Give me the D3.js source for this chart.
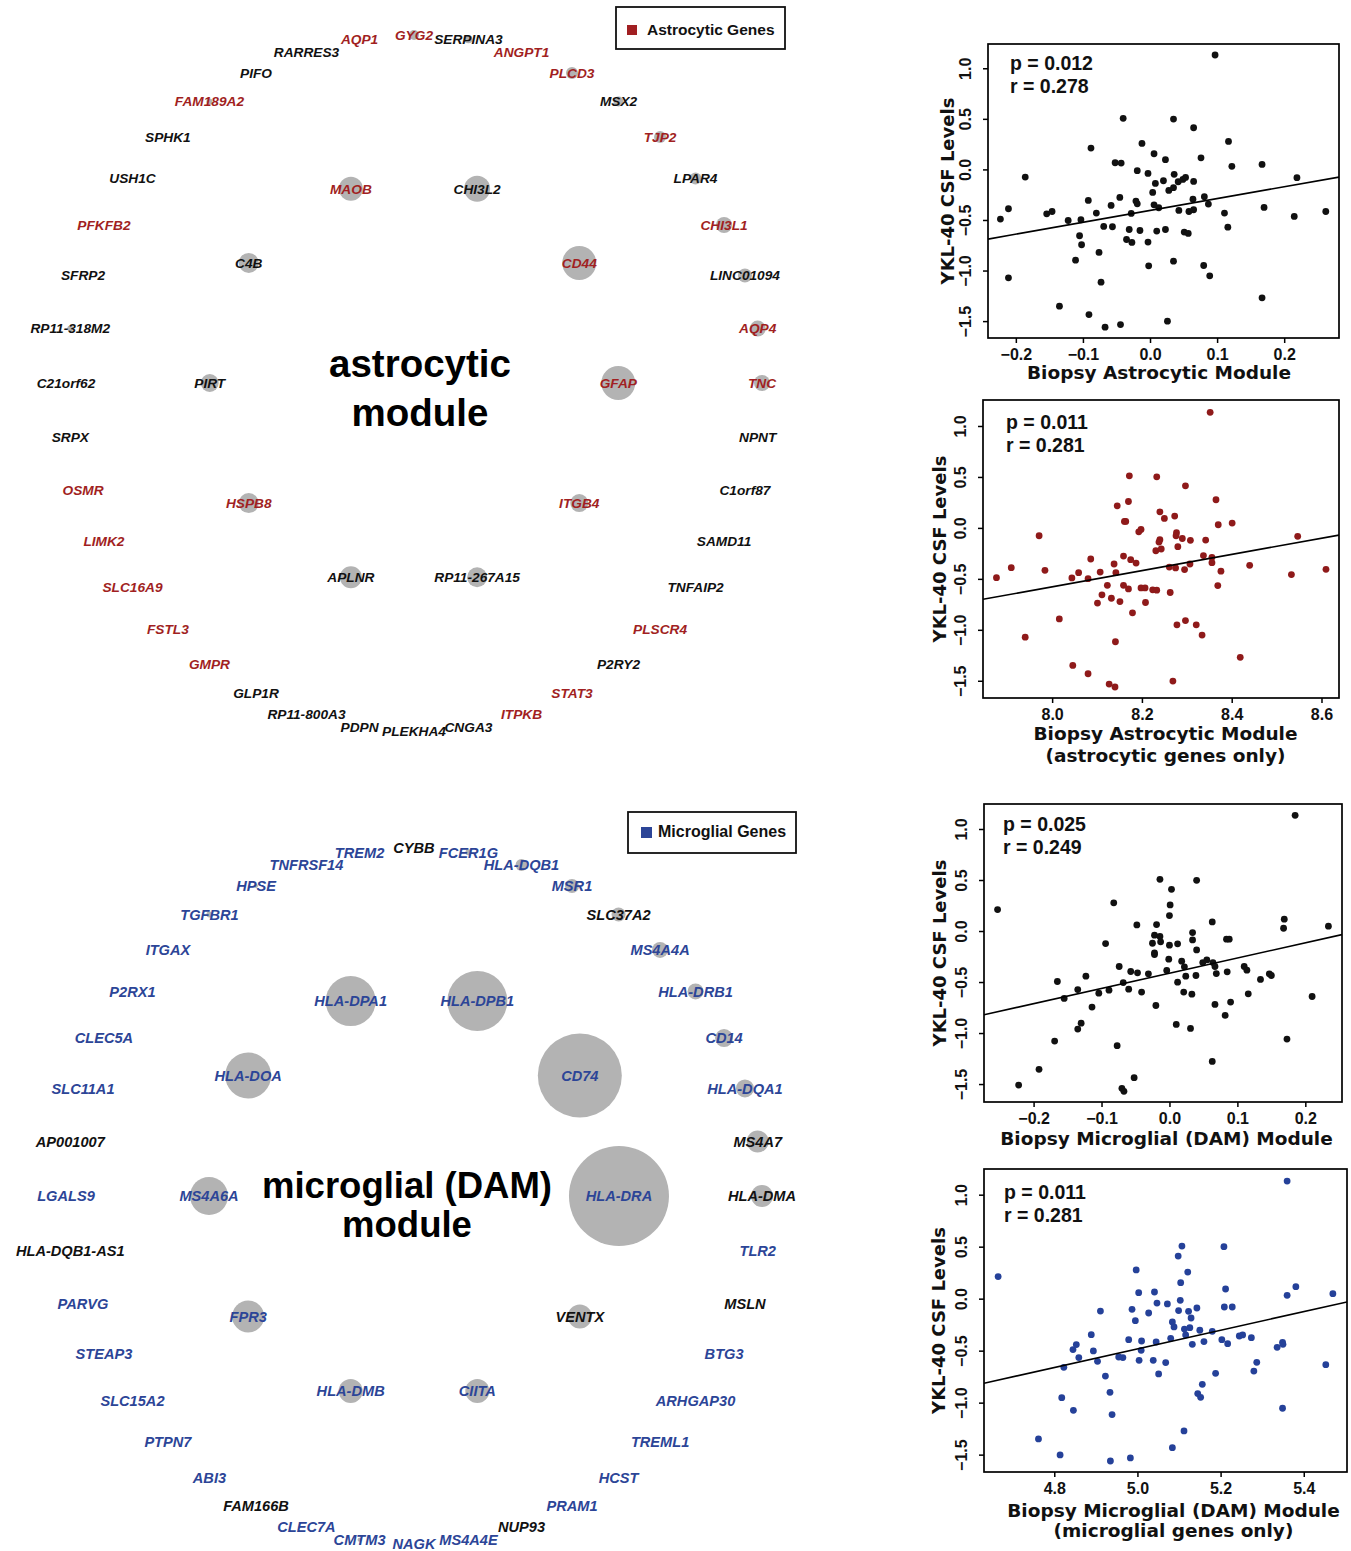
<!DOCTYPE html>
<html><head><meta charset="utf-8">
<script src="https://cdn.jsdelivr.net/npm/d3@7"></script>
<style>body{margin:0;background:#fff}svg{display:block}</style>
</head><body>
<svg id="c" width="1351" height="1551"></svg>
<script>
// ================= DATA =================
// Astrocytic network: outer ring (clockwise from top), hub ring (clockwise from right)
const astroRingGenes = ["GYG2","SERPINA3","ANGPT1","PLCD3","MSX2","TJP2","LPAR4","CHI3L1","LINC01094","AQP4","TNC","NPNT","C1orf87","SAMD11","TNFAIP2","PLSCR4","P2RY2","STAT3","ITPKB","CNGA3","PLEKHA4","PDPN","RP11-800A3","GLP1R","GMPR","FSTL3","SLC16A9","LIMK2","OSMR","SRPX","C21orf62","RP11-318M2","SFRP2","PFKFB2","USH1C","SPHK1","FAM189A2","PIFO","RARRES3","AQP1"];
const astroRingSize = [5,4,0,6,5,6,6,8,7,8,8,0,0,0,0,0,0,0,0,0,0,0,0,0,0,0,0,0,0,0,0,3,0,0,0,0,3,0,0,0];
const astroRingIsAstro = [1,0,1,1,0,1,0,1,0,1,1,0,0,0,0,1,0,1,1,0,0,0,0,0,1,1,1,1,1,0,0,0,0,1,0,0,1,0,0,1];
const astroHubGenes = ["GFAP","ITGB4","RP11-267A15","APLNR","HSPB8","PIRT","C4B","MAOB","CHI3L2","CD44"];
const astroHubSize = [17,9,10,11,10,9,10,12,13,17];
const astroHubIsAstro = [1,1,0,0,1,0,0,1,0,1];

// Microglial (DAM) network
const microRingGenes = ["CYBB","FCER1G","HLA-DQB1","MSR1","SLC37A2","MS4A4A","HLA-DRB1","CD14","HLA-DQA1","MS4A7","HLA-DMA","TLR2","MSLN","BTG3","ARHGAP30","TREML1","HCST","PRAM1","NUP93","MS4A4E","NAGK","CMTM3","CLEC7A","FAM166B","ABI3","PTPN7","SLC15A2","STEAP3","PARVG","HLA-DQB1-AS1","LGALS9","AP001007","SLC11A1","CLEC5A","P2RX1","ITGAX","TGFBR1","HPSE","TNFRSF14","TREM2"];
const microRingSize = [0,3,6,7,7,8,8,9,9,11,11,0,0,0,0,0,0,0,0,0,0,2,0,0,0,0,0,0,0,0,0,0,0,0,0,0,3,2,0,0];
const microRingIsMicro = [0,1,1,1,0,1,1,1,1,0,0,1,0,1,1,1,1,1,0,1,1,1,1,0,1,1,1,1,1,0,1,0,1,1,1,1,1,1,1,1];
const microHubGenes = ["HLA-DRA","VENTX","CIITA","HLA-DMB","FPR3","MS4A6A","HLA-DOA","HLA-DPA1","HLA-DPB1","CD74"];
const microHubSize = [50,12,12,12,16,19,23,25,30,42];
const microHubIsMicro = [1,0,1,1,1,1,1,1,1,1];

// Scatter panels
const p1X = [0.097,-0.040,0.035,0.065,-0.088,-0.012,0.117,0.006,0.076,-0.052,-0.043,0.023,0.122,0.167,-0.186,-0.019,-0.003,0.036,0.219,0.008,0.020,0.042,0.049,0.053,0.065,0.028,0.035,0.004,-0.045,-0.092,-0.058,-0.021,-0.019,0.006,0.013,0.064,0.081,0.087,0.043,0.058,0.065,0.170,-0.223,-0.211,-0.154,-0.146,-0.122,-0.103,-0.080,-0.028,0.111,0.215,0.262,-0.069,-0.056,-0.031,-0.015,0.010,0.023,0.051,0.057,0.116,-0.105,-0.102,-0.035,-0.027,-0.003,-0.076,-0.111,0.035,-0.002,0.080,0.089,-0.211,-0.073,0.167,-0.135,-0.091,-0.067,-0.044,0.026];
const p1Y = [1.131,0.505,0.498,0.412,0.211,0.257,0.277,0.155,0.115,0.066,0.063,0.096,0.030,0.049,-0.076,-0.013,-0.040,-0.049,-0.082,-0.139,-0.112,-0.122,-0.099,-0.079,-0.119,-0.208,-0.181,-0.228,-0.277,-0.307,-0.356,-0.313,-0.340,-0.350,-0.379,-0.294,-0.270,-0.343,-0.406,-0.416,-0.399,-0.376,-0.491,-0.389,-0.439,-0.416,-0.505,-0.498,-0.432,-0.435,-0.432,-0.465,-0.416,-0.564,-0.567,-0.594,-0.604,-0.610,-0.594,-0.620,-0.633,-0.571,-0.656,-0.745,-0.693,-0.722,-0.719,-0.821,-0.897,-0.907,-0.953,-0.950,-1.052,-1.072,-1.115,-1.270,-1.352,-1.435,-1.560,-1.534,-1.501];
const p2X = [8.352,8.172,8.233,8.297,8.170,8.145,8.365,8.240,8.250,8.273,8.161,8.164,8.370,8.401,7.971,8.198,8.193,8.277,8.276,8.290,8.308,8.342,8.547,8.240,8.238,8.231,8.243,8.280,8.086,8.159,8.175,8.187,8.138,8.142,8.107,8.059,8.044,8.080,7.876,7.909,7.984,8.261,8.275,8.295,8.307,8.337,8.356,8.356,8.376,8.440,8.533,8.610,8.123,8.159,8.170,8.198,8.207,8.224,8.233,8.263,8.369,8.111,8.132,8.151,8.101,8.208,8.179,8.016,8.297,8.278,8.321,8.334,7.940,8.141,8.419,8.046,8.080,8.127,8.140,8.269];
const p2Y = [1.134,0.511,0.501,0.413,0.259,0.217,0.276,0.158,0.093,0.116,0.064,0.064,0.031,0.047,-0.077,-0.015,-0.038,-0.047,-0.077,-0.104,-0.122,-0.119,-0.083,-0.116,-0.139,-0.224,-0.207,-0.184,-0.305,-0.276,-0.312,-0.345,-0.354,-0.439,-0.433,-0.439,-0.491,-0.498,-0.488,-0.390,-0.416,-0.384,-0.393,-0.409,-0.354,-0.272,-0.289,-0.341,-0.425,-0.367,-0.458,-0.406,-0.563,-0.563,-0.599,-0.589,-0.589,-0.608,-0.611,-0.634,-0.566,-0.657,-0.690,-0.723,-0.738,-0.732,-0.833,-0.893,-0.909,-0.951,-0.951,-1.052,-1.072,-1.117,-1.270,-1.349,-1.431,-1.532,-1.561,-1.503];
const p3X = [0.185,-0.253,-0.082,-0.014,0.040,0.003,0.001,0.000,-0.048,-0.019,0.063,0.169,0.168,0.234,-0.094,-0.022,-0.014,-0.025,-0.013,0.000,0.012,0.034,0.034,0.084,0.088,-0.022,-0.022,0.040,-0.001,0.018,-0.074,0.049,0.055,0.064,0.067,0.022,-0.004,-0.057,-0.047,-0.031,-0.123,-0.165,-0.068,0.012,0.024,0.039,0.069,0.085,0.110,0.114,0.134,0.147,0.150,-0.135,-0.104,-0.089,-0.060,-0.041,0.021,0.033,0.116,0.210,-0.155,-0.114,-0.020,0.067,0.090,0.082,-0.130,-0.135,0.010,0.031,-0.169,-0.077,0.173,0.063,-0.192,-0.222,-0.052,-0.070,-0.067];
const p3Y = [1.134,0.210,0.276,0.507,0.497,0.409,0.256,0.151,0.060,0.063,0.089,0.116,0.027,0.047,-0.123,-0.041,-0.054,-0.120,-0.106,-0.139,-0.126,-0.015,-0.087,-0.080,-0.080,-0.214,-0.230,-0.185,-0.276,-0.296,-0.348,-0.309,-0.283,-0.309,-0.348,-0.351,-0.387,-0.397,-0.410,-0.420,-0.443,-0.495,-0.505,-0.501,-0.443,-0.436,-0.417,-0.400,-0.348,-0.384,-0.475,-0.420,-0.436,-0.574,-0.609,-0.580,-0.570,-0.599,-0.599,-0.619,-0.616,-0.642,-0.661,-0.746,-0.730,-0.720,-0.697,-0.827,-0.903,-0.961,-0.916,-0.955,-1.079,-1.124,-1.059,-1.278,-1.356,-1.510,-1.438,-1.542,-1.571];
const p4X = [5.360,4.665,5.107,5.208,5.098,4.997,5.121,5.104,5.003,5.041,5.212,5.381,5.360,5.470,4.911,5.047,5.072,5.103,4.987,5.027,5.099,5.123,5.143,5.209,5.228,4.995,5.084,5.088,5.129,5.113,5.126,5.150,5.116,5.180,4.889,4.979,5.010,5.045,5.080,5.132,5.160,5.203,5.217,5.245,5.253,5.274,5.336,5.349,5.350,4.845,4.853,4.859,4.894,4.904,4.955,4.965,5.009,5.004,5.038,5.068,5.287,5.453,4.823,4.923,5.051,5.188,5.280,5.156,4.934,5.145,5.152,4.818,4.846,4.939,5.349,5.112,4.762,5.084,4.814,4.935,4.983];
const p4Y = [1.131,0.212,0.506,0.500,0.410,0.276,0.256,0.154,0.058,0.064,0.093,0.115,0.032,0.048,-0.119,-0.042,-0.051,-0.016,-0.103,-0.138,-0.115,-0.122,-0.090,-0.080,-0.080,-0.212,-0.224,-0.272,-0.186,-0.292,-0.279,-0.304,-0.349,-0.314,-0.346,-0.394,-0.407,-0.417,-0.381,-0.439,-0.413,-0.394,-0.433,-0.359,-0.349,-0.375,-0.468,-0.420,-0.439,-0.490,-0.442,-0.567,-0.503,-0.603,-0.561,-0.567,-0.497,-0.593,-0.593,-0.615,-0.612,-0.635,-0.660,-0.744,-0.724,-0.718,-0.696,-0.824,-0.901,-0.913,-0.949,-0.952,-1.074,-1.115,-1.054,-1.272,-1.349,-1.433,-1.503,-1.561,-1.532];

const fitSlope = [1.172, 0.794, 1.491, 0.896];
const fitIntercept = [-0.406, -6.930, -0.414, -4.963];
const pLabels = ["p = 0.012","p = 0.011","p = 0.025","p = 0.011"];
const rLabels = ["r = 0.278","r = 0.281","r = 0.249","r = 0.281"];
const yTicks = [-1.5,-1.0,-0.5,0.0,0.5,1.0];
const xTicksModule = [-0.2,-0.1,0.0,0.1,0.2];
const xTicksAstroGenes = [8.0,8.2,8.4,8.6];
const xTicksMicroGenes = [4.8,5.0,5.2,5.4];
const xTitles = [["Biopsy Astrocytic Module"],["Biopsy Astrocytic Module","(astrocytic genes only)"],["Biopsy Microglial (DAM) Module"],["Biopsy Microglial (DAM) Module","(microglial genes only)"]];
const yTitle = "YKL-40 CSF Levels";

// ================= STYLE / LAYOUT =================
const RED = "#a11f22", BLUE = "#2c4597", TXT = "#111";
const LABEL_FONT = "'Liberation Sans', Arial, Helvetica, sans-serif";
const WIDE_FONT = "'DejaVu Sans', Verdana, sans-serif";
const svg = d3.select("#c");

function drawNetwork(cfg, ringGenes, ringSize, ringFlag, hubGenes, hubSize, hubFlag, flagColor) {
  const g = svg.append("g");
  const ang = d3.scaleLinear().domain([0, ringGenes.length]).range([-Math.PI/2, 3*Math.PI/2]);
  const hubAng = d3.scaleLinear().domain([0, hubGenes.length]).range([0, 2*Math.PI]);
  const sx = d3.scaleLinear().domain([-1,1]).range([cfg.cx-cfg.R, cfg.cx+cfg.R]);
  const sy = d3.scaleLinear().domain([-1,1]).range([cfg.cy-cfg.R, cfg.cy+cfg.R]);
  const rs = d3.scaleLinear().domain([0,50]).range([0,50]);
  const nodes = ringGenes.map((n,i)=>({name:n, size:ringSize[i], flag:ringFlag[i], ux:Math.cos(ang(i)), uy:Math.sin(ang(i))}))
    .concat(hubGenes.map((n,i)=>({name:n, size:hubSize[i], flag:hubFlag[i], ux:cfg.hub*Math.cos(hubAng(i)), uy:cfg.hub*Math.sin(hubAng(i))})));
  g.selectAll("circle").data(nodes.filter(d=>d.size>0)).join("circle")
    .attr("cx", d=>sx(d.ux)).attr("cy", d=>sy(d.uy)).attr("r", d=>rs(d.size))
    .attr("fill", "#b3b3b3");
  g.selectAll("text.lab").data(nodes).join("text").attr("class","lab")
    .attr("x", d=>sx(d.ux)).attr("y", d=>sy(d.uy)).attr("dy","0.36em")
    .attr("text-anchor","middle")
    .style("font-family", LABEL_FONT).style("font-weight","bold").style("font-style","italic")
    .style("font-size", cfg.fs+"px")
    .attr("fill", d=>d.flag ? flagColor : TXT)
    .text(d=>d.name);
  cfg.title.forEach((t,i)=>{
    g.append("text").attr("x", cfg.tx).attr("y", cfg.ty[i]).attr("text-anchor","middle")
      .style("font-family", LABEL_FONT).style("font-weight","bold").style("font-size", cfg.tfs+"px")
      .attr("fill","#000").text(t);
  });
  const L = cfg.legend;
  g.append("rect").attr("x",L.x).attr("y",L.y).attr("width",L.w).attr("height",L.h)
    .attr("fill","#fff").attr("stroke","#111").attr("stroke-width",1.8);
  g.append("rect").attr("x",L.x+L.sq[0]).attr("y",L.y+L.sq[1]).attr("width",L.sq[2]).attr("height",L.sq[2])
    .attr("fill",flagColor);
  g.append("text").attr("x",L.x+L.tx).attr("y",L.y+L.ty)
    .style("font-family", LABEL_FONT).style("font-weight","bold").style("font-size", L.fs+"px")
    .attr("fill","#111").text(L.text);
}

drawNetwork({cx:414, cy:383, R:348, hub:0.587, fs:13.7, title:["astrocytic","module"], tx:420, ty:[377,426], tfs:38.5,
  legend:{x:616,y:7,w:169,h:42,sq:[11,18,10],tx:31,ty:28,fs:15.5,text:"Astrocytic Genes"}},
  astroRingGenes, astroRingSize, astroRingIsAstro, astroHubGenes, astroHubSize, astroHubIsAstro, RED);
drawNetwork({cx:414, cy:1196, R:348, hub:0.589, fs:14.6, title:["microglial (DAM)","module"], tx:407, ty:[1198,1237], tfs:36.5,
  legend:{x:628,y:812,w:168,h:41,sq:[13,15,11],tx:30,ty:25,fs:16,text:"Microglial Genes"}},
  microRingGenes, microRingSize, microRingIsMicro, microHubGenes, microHubSize, microHubIsMicro, BLUE);

const panels = [
  {x0:988, x1:1339, y0:44,  y1:338,  xd:[-0.2415,0.2817], yd:[-1.667,1.24],  X:p1X, Y:p1Y, xt:xTicksModule,    col:"#111",    textX:22, pY:26,   ytOff:34.5, xtY:[41],    xtDx:-4.5, tkY:10.5},
  {x0:983, x1:1339, y0:400, y1:698,  xd:[7.846,8.639],    yd:[-1.669,1.255], X:p2X, Y:p2Y, xt:xTicksAstroGenes, col:"#8f1a1a", textX:23, pY:29,   ytOff:37,   xtY:[42,64], xtDx:4.5, tkY:11},
  {x0:984, x1:1342, y0:804, y1:1102, xd:[-0.273,0.254],   yd:[-1.676,1.245], X:p3X, Y:p3Y, xt:xTicksModule,    col:"#111",    textX:19, pY:26.5, ytOff:38,   xtY:[43],    xtDx:3.5, tkY:11},
  {x0:984, x1:1347, y0:1169,y1:1472, xd:[4.631,5.504],    yd:[-1.667,1.247], X:p4X, Y:p4Y, xt:xTicksMicroGenes, col:"#254199", textX:20, pY:30,   ytOff:39.5, xtY:[45,65], xtDx:8, tkY:11}
];

panels.forEach((P, k) => {
  const g = svg.append("g");
  const x = d3.scaleLinear().domain(P.xd).range([P.x0, P.x1]);
  const y = d3.scaleLinear().domain(P.yd).range([P.y1, P.y0]);
  const clipId = "clip"+k;
  g.append("clipPath").attr("id",clipId).append("rect")
    .attr("x",P.x0).attr("y",P.y0).attr("width",P.x1-P.x0).attr("height",P.y1-P.y0);
  g.append("g").selectAll("circle").data(P.X.map((v,i)=>[v,P.Y[i]])).join("circle")
    .attr("cx", d=>x(d[0])).attr("cy", d=>y(d[1])).attr("r", 3.4).attr("fill", P.col);
  const lx = P.xd;
  g.append("line").attr("clip-path",`url(#${clipId})`)
    .attr("x1", x(lx[0])).attr("y1", y(fitIntercept[k]+fitSlope[k]*lx[0]))
    .attr("x2", x(lx[1])).attr("y2", y(fitIntercept[k]+fitSlope[k]*lx[1]))
    .attr("stroke","#000").attr("stroke-width",1.6);
  g.append("rect").attr("x",P.x0).attr("y",P.y0).attr("width",P.x1-P.x0).attr("height",P.y1-P.y0)
    .attr("fill","none").attr("stroke","#000").attr("stroke-width",1.7);
  const ax = g.append("g").attr("transform",`translate(0,${P.y1})`)
    .call(d3.axisBottom(x).tickValues(P.xt).tickFormat(d3.format(".1f")).tickSize(5).tickSizeOuter(0));
  ax.select(".domain").remove();
  ax.selectAll("line").attr("stroke","#000").attr("stroke-width",1.5);
  ax.selectAll("text").attr("y",P.tkY).attr("dy","0.71em")
    .style("font-family",LABEL_FONT).style("font-weight","bold").style("font-size","16px").attr("fill","#111");
  const ay = g.append("g").attr("transform",`translate(${P.x0},0)`)
    .call(d3.axisLeft(y).tickValues(yTicks).tickFormat(d3.format(".1f")).tickSize(5).tickSizeOuter(0));
  ay.select(".domain").remove();
  ay.selectAll("line").attr("stroke","#000").attr("stroke-width",1.5);
  ay.selectAll("text").attr("x",0).attr("dy",0).attr("text-anchor","middle")
    .attr("transform","translate(-17,0) rotate(-90)")
    .style("font-family",LABEL_FONT).style("font-weight","bold").style("font-size","16px").attr("fill","#111");
  g.append("text").attr("x",P.x0+P.textX).attr("y",P.y0+P.pY)
    .style("font-family",LABEL_FONT).style("font-weight","bold").style("font-size","19.5px").attr("fill","#111").text(pLabels[k]);
  g.append("text").attr("x",P.x0+P.textX).attr("y",P.y0+P.pY+23)
    .style("font-family",LABEL_FONT).style("font-weight","bold").style("font-size","19.5px").attr("fill","#111").text(rLabels[k]);
  xTitles[k].forEach((t,i)=>{
    g.append("text").attr("x",(P.x0+P.x1)/2+P.xtDx).attr("y",P.y1+P.xtY[i]).attr("text-anchor","middle")
      .style("font-family",WIDE_FONT).style("font-weight","bold").style("font-size","18.5px").attr("fill","#111").text(t);
  });
  g.append("text").attr("text-anchor","middle")
    .attr("transform",`translate(${P.x0-P.ytOff},${(P.y0+P.y1)/2}) rotate(-90)`)
    .style("font-family",WIDE_FONT).style("font-weight","bold").style("font-size","18px").attr("fill","#111").text(yTitle);
});
</script>
</body></html>
